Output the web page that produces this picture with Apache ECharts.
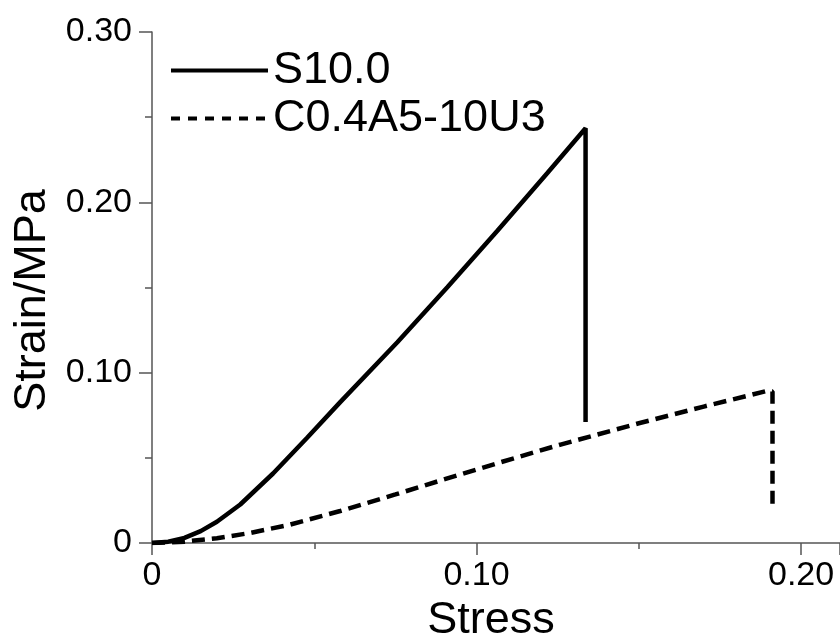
<!DOCTYPE html>
<html>
<head>
<meta charset="utf-8">
<script src="https://cdn.jsdelivr.net/npm/echarts@6/dist/echarts.min.js"></script>
<style>
  html, body { margin: 0; padding: 0; background: #fff; }
  #chart { width: 840px; height: 641px; }
</style>
</head>
<body>
<div id="chart"></div>
<script>
// Stress (x) / Strain (y) samples for each specimen
const seriesNames = ['S10.0', 'C0.4A5-10U3'];

const s10Stress = [0, 0.005, 0.010, 0.015, 0.020, 0.0272, 0.0373, 0.0478, 0.058, 0.0756, 0.091, 0.1065, 0.1219, 0.1336, 0.1336];
const s10Strain = [0, 0.0008, 0.0030, 0.0070, 0.0125, 0.0226, 0.0408, 0.0618, 0.0827, 0.1179, 0.1502, 0.1835, 0.2174, 0.2435, 0.071];

const cStress = [0, 0.010, 0.020, 0.030, 0.0426, 0.058, 0.075, 0.0889, 0.1074, 0.1259, 0.150, 0.170, 0.1898, 0.1912, 0.1912];
const cStrain = [0, 0.0008, 0.0028, 0.0058, 0.0108, 0.0188, 0.0285, 0.0367, 0.0474, 0.0578, 0.0703, 0.0801, 0.0894, 0.0890, 0.0190];

const xTickStep = 0.1;
const yTickStep = 0.1;

function pairs(xs, ys) { return xs.map((x, i) => [x, ys[i]]); }

const font = 'Liberation Sans, Arial, sans-serif';
const axisGray = '#555';

function tickFmt(v) { return v === 0 ? '0' : v.toFixed(2); }

const chart = echarts.init(document.getElementById('chart'), null, { renderer: 'canvas' });

chart.setOption({
  animation: false,
  backgroundColor: '#fff',
  grid: { left: 152, top: 32, right: 0, bottom: 98, outerBoundsMode: 'none' },
  legend: {
    orient: 'vertical',
    left: 164,
    top: 43,
    itemWidth: 97,
    itemHeight: 4,
    itemGap: 3,
    itemStyle: { color: 'rgba(0,0,0,0)', borderColor: 'rgba(0,0,0,0)', borderWidth: 0 },
    lineStyle: { width: 4 },
    textStyle: { fontFamily: font, fontSize: 45, color: '#000', lineHeight: 45 },
    data: [
      { name: seriesNames[0] },
      { name: seriesNames[1], lineStyle: { type: [9, 8], width: 4 } }
    ]
  },
  xAxis: {
    type: 'value',
    min: 0,
    max: 0.212,
    interval: xTickStep,
    name: 'Stress',
    nameLocation: 'middle',
    nameGap: 50,
    nameTextStyle: { fontFamily: font, fontSize: 45, color: '#000', padding: [0, 10, 0, 0] },
    axisLine: { lineStyle: { color: axisGray, width: 1.5 } },
    axisTick: { length: 12, lineStyle: { color: axisGray, width: 1.5 } },
    minorTick: { show: true, splitNumber: 2, length: 6, lineStyle: { color: axisGray, width: 1.5 } },
    splitLine: { show: false },
    axisLabel: { fontFamily: font, fontSize: 34, color: '#000', margin: 16, formatter: tickFmt, showMaxLabel: false }
  },
  yAxis: {
    type: 'value',
    min: 0,
    max: 0.30,
    interval: yTickStep,
    name: 'Strain/MPa',
    nameLocation: 'middle',
    nameGap: 92,
    nameTextStyle: { fontFamily: font, fontSize: 45, color: '#000', padding: [0, 26, 0, 0] },
    axisLine: { show: true, lineStyle: { color: axisGray, width: 1.5 } },
    axisTick: { show: true, length: 13, lineStyle: { color: axisGray, width: 1.5 } },
    minorTick: { show: true, splitNumber: 2, length: 7, lineStyle: { color: axisGray, width: 1.5 } },
    splitLine: { show: false },
    axisLabel: { fontFamily: font, fontSize: 34, color: '#000', margin: 20, formatter: tickFmt }
  },
  series: [
    {
      name: seriesNames[0],
      type: 'line',
      data: pairs(s10Stress, s10Strain),
      showSymbol: false,
      symbol: 'none',
      smooth: false,
      lineStyle: { color: '#000', width: 4.5, type: 'solid' },
      itemStyle: { color: '#000' }
    },
    {
      name: seriesNames[1],
      type: 'line',
      data: pairs(cStress, cStrain),
      showSymbol: false,
      symbol: 'none',
      smooth: false,
      lineStyle: { color: '#000', width: 4.5, type: [13, 7] },
      itemStyle: { color: '#000' }
    }
  ]
});
</script>
</body>
</html>
